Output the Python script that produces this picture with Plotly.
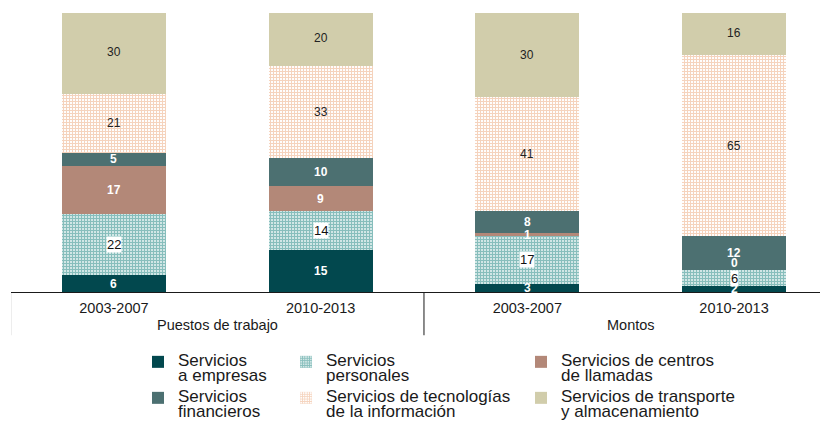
import plotly.graph_objects as go

# Categories: two periods inside each of two groups
periods = ["2003-2007", "2010-2013", "2003-2007", "2010-2013"]
groups = ["Puestos de trabajo", "Montos"]
group_members = [[0, 1], [2, 3]]

# Shares (%) per service type, stacked bottom to top
empresas = [6, 15, 3, 2]
personales = [22, 14, 17, 6]
centros = [17, 9, 1, 0]
financieros = [5, 10, 8, 12]
tecnologias = [21, 33, 41, 65]
transporte = [30, 20, 30, 16]

series = [
    ("Servicios<br>a empresas", empresas),
    ("Servicios<br>personales", personales),
    ("Servicios de centros<br>de llamadas", centros),
    ("Servicios<br>financieros", financieros),
    ("Servicios de tecnologías<br>de la información", tecnologias),
    ("Servicios de transporte<br>y almacenamiento", transporte),
]

FONT = "Liberation Sans, Arial, sans-serif"

# Style per series: fill colour, optional grid-pattern solidity, label style
styles = [
    dict(color="#02484e", pattern=None, label="white"),
    dict(color="#0f7e79", pattern=0.7, label="boxed"),
    dict(color="#b38878", pattern=None, label="white"),
    dict(color="#4c7071", pattern=None, label="white"),
    dict(color="#eca87c", pattern=0.6, label="dark"),
    dict(color="#d1cdab", pattern=None, label="dark"),
]

# Legend placement: three columns, two rows (text left edge / top edge)
legend_cols = [178, 326, 561]
legend_rows = [348, 384]
legend_cells = [(0, 0), (1, 0), (2, 0), (0, 1), (1, 1), (2, 1)]

W, H = 822, 422
x = list(range(len(periods)))

fig = go.Figure()
layout_legends = {}
for i, ((name, vals), st) in enumerate(zip(series, styles)):
    lid = "legend" if i == 0 else f"legend{i + 1}"
    marker = dict(color=st["color"], line=dict(width=0))
    if st["pattern"]:
        marker["pattern"] = dict(shape="+", fgcolor=st["color"], bgcolor="white",
                                 size=3, solidity=st["pattern"])
    lines = name.split("<br>")
    legend_name = "<br>".join(f'<span style="font-size:17px">{t}</span>' for t in lines)
    fig.add_trace(go.Bar(x=x, y=vals, name=legend_name, marker=marker, width=0.503,
                         legend=lid, hoverinfo="skip"))
    col, row = legend_cells[i]
    layout_legends[lid] = dict(
        x=(legend_cols[col] - 40) / W, y=1 - legend_rows[row] / H,
        xref="container", yref="container", xanchor="left", yanchor="top",
        font=dict(family=FONT, size=11.3, color="#1a1a1a"),
        valign="top", bgcolor="rgba(0,0,0,0)", borderwidth=0,
    )

# Segment value labels at the middle of each stacked segment
base = [0] * len(periods)
for (name, vals), st in zip(series, styles):
    for j, v in enumerate(vals):
        mid = base[j] + v / 2
        # empty segments get their label nudged up off the boundary
        shift = 7 if v == 0 else 0
        if st["label"] == "white":
            fig.add_annotation(x=j, y=mid, text=f"<b>{v}</b>", showarrow=False, yshift=shift,
                               font=dict(family=FONT, size=12, color="white"))
        elif st["label"] == "boxed":
            fig.add_annotation(x=j, y=mid, text=str(v), showarrow=False, bgcolor="white",
                               borderpad=0, yshift=shift,
                               font=dict(family=FONT, size=13, color="#111"))
        else:
            fig.add_annotation(x=j, y=mid, text=str(v), showarrow=False, yshift=shift,
                               font=dict(family=FONT, size=12, color="#222"))
        base[j] += v

# Group labels and group dividers below the axis
for g, members in zip(groups, group_members):
    centre = sum(members) / len(members)
    fig.add_annotation(x=centre, y=0, xref="x", yref="paper", text=g, showarrow=False,
                       yanchor="middle", yshift=-33,
                       font=dict(family=FONT, size=14.5, color="#1a1a1a"))
for members in group_members:
    edge = members[0] - 0.5
    fig.add_shape(type="line", x0=edge, x1=edge, xref="x", y0=0, y1=-0.155, yref="paper",
                  line=dict(color="#1a1a1a", width=1))

fig.update_layout(
    width=W, height=H,
    margin=dict(l=11, r=2, t=13, b=130, autoexpand=False),
    barmode="stack",
    bargap=0,
    paper_bgcolor="white",
    plot_bgcolor="white",
    font=dict(family=FONT, size=14.5, color="#1a1a1a"),
    showlegend=True,
    xaxis=dict(
        tickmode="array", tickvals=x, ticktext=periods,
        range=[-0.498, 3.416], showgrid=False, zeroline=False,
        showline=True, linecolor="#1a1a1a", linewidth=1, ticks="",
        ticklabelstandoff=3,
        tickfont=dict(family=FONT, size=14.5, color="#1a1a1a"),
    ),
    yaxis=dict(range=[0, 100], showgrid=False, zeroline=False, showticklabels=False,
               showline=False),
    **layout_legends,
)

fig.write_html("out.html")
